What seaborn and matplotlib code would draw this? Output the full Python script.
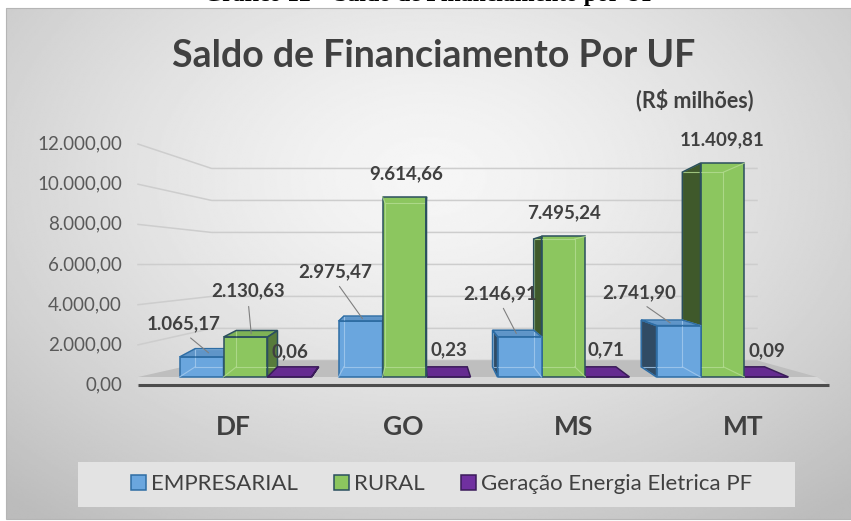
import matplotlib
matplotlib.use("Agg")
import matplotlib.pyplot as plt
from matplotlib.patches import Polygon, Rectangle, Patch
from matplotlib.colors import to_rgb
import numpy as np
import pandas as pd
import seaborn as sns

# data
ufs = ["DF", "GO", "MS", "MT"]
series = ["EMPRESARIAL", "RURAL", "Geração Energia Eletrica PF"]
empresarial = [1065.17, 2975.47, 2146.91, 2741.90]
rural = [2130.63, 9614.66, 7495.24, 11409.81]
geracao_pf = [0.06, 0.23, 0.71, 0.09]
y_ticks = [0, 2000, 4000, 6000, 8000, 10000, 12000]
caption = "Gráfico 12 – Saldo de Financiamento por UF"
title = "Saldo de Financiamento Por UF"
subtitle = "(R$ milhões)"

df = pd.DataFrame({
    "uf": ufs * 3,
    "serie": [s for s in series for _ in ufs],
    "valor": empresarial + rural + geracao_pf,
})
values = [empresarial, rural, geracao_pf]

# style
front = ["#6AA6DE", "#8CC65F", "#7030A0"]
edge = ["#2E6DA4", "#2B4F5E", "#3B1C5A"]
inner = ["#A6CBEE", "#B5DD93", "#9A6CC0"]
TXT = "#404040"
# label offsets (px, right / up) from the top of each bar
label_offsets = [
    [(-17.5, 33), (-25.5, 49.5), (-19.5, 43.4), (-39, 32.6)],
    [(2.5, 46), (1.5, 23.4), (0.5, 23.8), (0, 23)],
    [(0, 25), (0, 27), (-2, 27), (0, 26)],
]
leaders = [[True] * 4, [True, False, False, False], [False] * 4]

plt.rcParams["font.family"] = ["Lato", "DejaVu Sans"]

W, H = 851, 521
PX_X = 159.0            # px per category step
PX_Y = 18.75 / 1000     # px per value unit
X0_PX, Y0_PX = 245.5, 377.0


def to_data(px, py):
    return (px - X0_PX) / PX_X, (Y0_PX - py) / PX_Y


VX, VY = to_data(421, 264)   # vanishing point of the fake perspective
BACK = (0.935, 0.91)
TICK_F = 1.071
WALL_F = 0.853


def proj(x, y, fx, fy):
    return VX + (x - VX) * fx, VY + (y - VY) * fy


def y_tick(v):
    return VY + (v - VY) * TICK_F


def y_wall(v):
    return VY + (v - VY) * WALL_F


def br(v):
    return f"{v:,.2f}".replace(",", "X").replace(".", ",").replace("X", ".")


def shade(c, f):
    r, g, b = to_rgb(c)
    return (r * f, g * f, b * f)


fig = plt.figure(figsize=(W / 100, H / 100), dpi=100)
fig.patch.set_facecolor("white")

# background panel
bg = fig.add_axes([0, 0, 1, 1])
bg.set_xlim(0, W)
bg.set_ylim(H, 0)
bg.axis("off")
bg.text(430, 1.0, caption, ha="center", va="baseline", fontsize=17,
        fontweight="bold", family="Liberation Serif", color="black", zorder=0)
yy, xx = np.mgrid[0:1:300j, 0:1:500j]
r = np.sqrt(((xx - 0.5) / 0.75) ** 2 + ((yy - 0.33) / 0.85) ** 2)
grad = 0.965 - 0.23 * np.clip(r, 0, 1) ** 1.4
bg.imshow(grad, cmap="gray", vmin=0, vmax=1, extent=(6, W, 519, 8),
          aspect="auto", zorder=1, interpolation="bilinear")
bg.add_patch(Rectangle((6, 8), W - 6, 511, fill=False, ec="#b5b5b5", lw=0.8, zorder=2))
bg.text(434, 67, title, ha="center", va="baseline", fontsize=27,
        fontweight="bold", color=TXT, zorder=3)
bg.text(694.5, 107, subtitle, ha="center", va="baseline", fontsize=15.5,
        fontweight="bold", color=TXT, zorder=3)
bg.add_patch(Rectangle((78, 462), 717, 45, fc="#e3e3e3", ec="none", zorder=3))

# chart
ax = fig.add_axes([0, 0, 1, 1])
ax.patch.set_alpha(0)
sns.barplot(data=df, x="uf", y="valor", hue="serie", order=ufs, hue_order=series,
            palette=front, width=0.83, saturation=1, errorbar=None,
            legend=False, ax=ax)
ax.set_axis_off()
ax.set_xlim(to_data(0, 0)[0], to_data(W, 0)[0])
ax.set_ylim(to_data(0, H)[1], to_data(0, 0)[1])

# walls, gridlines and floor
xFL, xBL, xBR, xFR, xFRL = [to_data(p, 0)[0] for p in (138, 211.7, 757, 817, 829)]
for v in y_ticks:
    ax.plot([xFL, xBL, xBR], [y_tick(v), y_wall(v), y_wall(v)],
            color="#cdcdcd", lw=1.1, zorder=0.5)
    ax.annotate(br(v), (xFL, y_tick(v)), xytext=(-16, 0), textcoords="offset pixels",
                ha="right", va="center", fontsize=13.5, color="#595959")
ax.add_patch(Polygon([(xFL, 0), (xFR, 0), (xBR, y_wall(0)), (xBL, y_wall(0))],
                     closed=True, fc="#bebebe", ec="none", zorder=1))
ax.add_patch(Polygon([(xFL, 0), (xFR, 0), (xFRL, y_tick(0)), (xFL, y_tick(0))],
                     closed=True, fc="#d8d8d8", ec="none", zorder=1))
ax.plot([xFL, xFRL], [y_tick(0), y_tick(0)], color="#4d4d4d", lw=2.2,
        zorder=1.1, solid_capstyle="butt")

# 3d faces for every bar
for i, cont in enumerate(ax.containers):
    for bar in cont:
        x0, w, h = bar.get_x(), bar.get_width(), bar.get_height()
        x1, xc = x0 + w, x0 + w / 2
        z = 5 - abs(xc - VX)
        bk = lambda x, y: proj(x, y, *BACK)
        faces = []
        if bk(x0, h)[1] > h:
            faces.append((Polygon([(x0, h), (x1, h), bk(x1, h), bk(x0, h)]),
                          shade(front[i], 0.9)))
        sx = x1 if xc < VX else x0
        sf = 0.62 if xc < VX else 0.45
        faces.append((Polygon([(sx, 0), (sx, h), bk(sx, h), bk(sx, 0)]),
                       shade(front[i], sf)))
        for poly, fc in faces:
            poly.set(fc=fc, ec="none", zorder=z - 0.03)
            ax.add_patch(poly)
        bar.set(fc=front[i], ec=edge[i], lw=1.1, zorder=z - 0.02)
        if h > 300:
            corners = [(x0, 0), (x1, 0), (x1, h), (x0, h)]
            back_c = [bk(*c) for c in corners]
            bx, by = zip(*(back_c + back_c[:1]))
            ax.plot(bx, by, color=inner[i], lw=0.8, alpha=0.8, zorder=z - 0.015)
            for c, b in zip(corners, back_c):
                ax.plot([c[0], b[0]], [c[1], b[1]], color=inner[i], lw=0.8,
                        alpha=0.8, zorder=z - 0.015)
        for poly, fc in faces:
            ax.add_patch(Polygon(poly.get_xy(), closed=True, fill=False, ec=edge[i],
                                 lw=1.1, zorder=z - 0.01))

# data labels
for i, cont in enumerate(ax.containers):
    for j, bar in enumerate(cont):
        xc, h = bar.get_x() + bar.get_width() / 2, bar.get_height()
        dx, dy = label_offsets[i][j]
        anchor = proj(xc, h, (1 + BACK[0]) / 2, (1 + BACK[1]) / 2)
        arrow = None
        if leaders[i][j]:
            arrow = dict(arrowstyle="-", color="#7f7f7f", lw=0.8, shrinkA=3,
                         shrinkB=0, relpos=(0.5, 0))
        ax.annotate(br(values[i][j]), xy=anchor, xytext=(xc + dx / PX_X, h + dy / PX_Y),
                    textcoords="data", ha="center", va="center", fontsize=13.5,
                    fontweight="bold", color=TXT, arrowprops=arrow, zorder=20)

# category labels
for j, uf in enumerate(ufs):
    ax.annotate(uf, (VX + (j - VX) * 1.07, y_tick(0)), xytext=(0, -41.7),
                textcoords="offset pixels", ha="center", va="center", fontsize=19,
                fontweight="bold", color=TXT)

handles = [Patch(fc=front[i], ec=edge[i], lw=1.1) for i in range(3)]
fig.legend(handles, series, loc="center", bbox_to_anchor=(441.5 / W, 1 - 484.5 / H),
           ncol=3, frameon=False, fontsize=16, handlelength=0.68, handleheight=0.68,
           handletextpad=0.25, columnspacing=1.6, labelcolor=TXT)

fig.savefig("out.png", dpi=100)
